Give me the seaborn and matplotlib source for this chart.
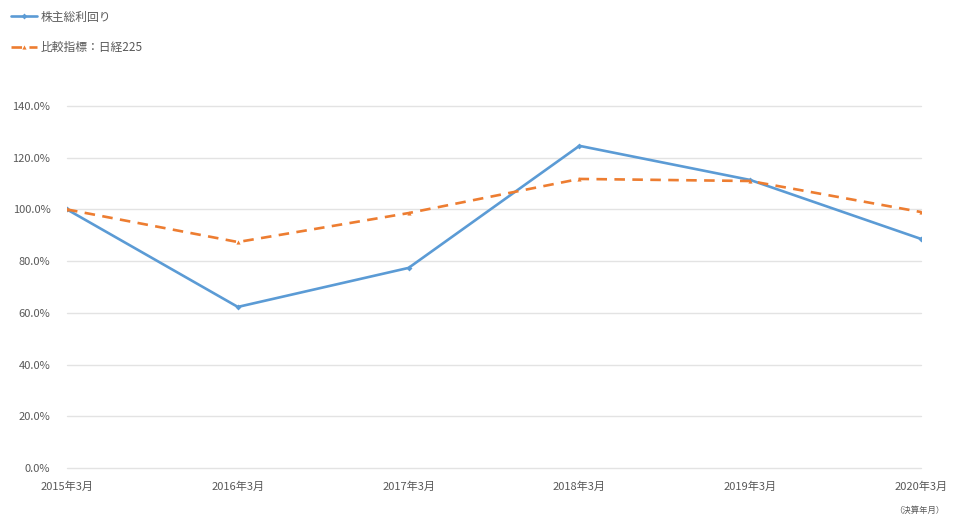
import numpy as np
import pandas as pd
import matplotlib
matplotlib.use("Agg")
import matplotlib.pyplot as plt
from matplotlib.ticker import PercentFormatter
import seaborn as sns

# chart data
periods = ["2015年3月", "2016年3月", "2017年3月", "2018年3月", "2019年3月", "2020年3月"]
tsr = [100.0, 62.3, 77.4, 124.6, 111.4, 88.6]
nikkei = [100.0, 87.4, 98.6, 111.8, 111.0, 99.0]
series_names = ["株主総利回り", "比較指標：日経225"]

sns.set_theme(style="white")
plt.rcParams['font.family'] = ['Noto Sans CJK JP', 'DejaVu Sans']

df = pd.DataFrame({
    "period": periods * 2,
    "pos": list(range(len(periods))) * 2,
    "value": tsr + nikkei,
    "series": [series_names[0]] * len(periods) + [series_names[1]] * len(periods),
})

fig = plt.figure(figsize=(9.56, 5.21), dpi=100)
ax = fig.add_axes([0.0701, 0.1017, 0.8933, 0.6948])

palette = {series_names[0]: "#5b9bd5", series_names[1]: "#ed7d31"}
sns.lineplot(data=df, x="pos", y="value", hue="series", style="series",
             palette=palette, dashes={series_names[0]: "", series_names[1]: (4, 2.8)},
             markers={series_names[0]: "D", series_names[1]: "^"}, markersize=3,
             markeredgewidth=0, linewidth=1.9, ax=ax)

ax.set_xlim(0, len(periods) - 1)
ax.set_ylim(0, 140)
ax.set_yticks(np.arange(0, 141, 20))
ax.yaxis.set_major_formatter(PercentFormatter(decimals=1))
ax.set_xticks(range(len(periods)))
ax.set_xticklabels(periods)
ax.set_xlabel("")
ax.set_ylabel("")
ax.grid(axis="y", color="#e3e3e3", linewidth=1)
for gl in ax.get_ygridlines():
    gl.set_clip_on(False)
ax.set_axisbelow(True)
for s in ax.spines.values():
    s.set_visible(False)
ax.tick_params(axis="both", length=0, labelsize=8, colors="#595959")
ax.tick_params(axis="x", pad=10)
ax.tick_params(axis="y", pad=12)

handles, labels = ax.get_legend_handles_labels()
ax.get_legend().remove()
fig.legend(handles, labels, loc="upper left", bbox_to_anchor=(0.0, 1.0),
           borderaxespad=0.5, frameon=False, fontsize=8.5, labelcolor="#595959",
           handlelength=2.2, handletextpad=0.35, labelspacing=1.45)

fig.text(0.962, 0.012, "（決算年月）", fontsize=6, color="#595959", ha="center", va="bottom")

fig.savefig("out.png", dpi=100)
